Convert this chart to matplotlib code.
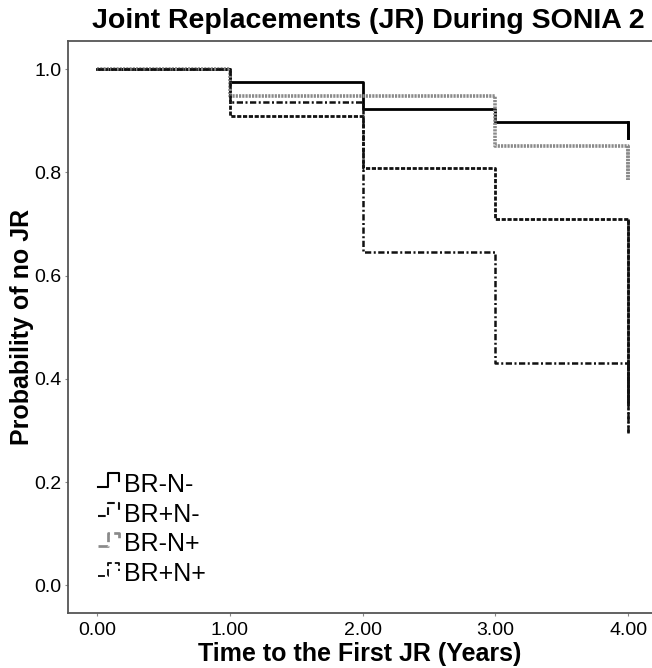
import matplotlib
matplotlib.use("Agg")
import matplotlib.pyplot as plt
from matplotlib.lines import Line2D
from matplotlib.legend_handler import HandlerBase

plt.rcParams['font.family'] = ['Liberation Sans', 'DejaVu Sans']

# Data (Kaplan-Meier step curves)
times = [0, 1, 2, 3, 4]
groups = ["BR-N-", "BR+N-", "BR-N+", "BR+N+"]
surv_br_n_minus = [1.0, 0.975, 0.922, 0.897, 0.866]
surv_br_plus_n_minus = [1.0, 0.910, 0.808, 0.710, 0.354]
surv_br_n_plus = [1.0, 0.947, 0.947, 0.851, 0.785]
surv_br_plus_n_plus = [1.0, 0.936, 0.646, 0.430, 0.295]
# value held just before the final drop at t=4
last_hold = {
    "BR-N-": 0.897, "BR+N-": 0.710, "BR-N+": 0.851, "BR+N+": 0.430,
}
series = {
    "BR-N-": surv_br_n_minus,
    "BR+N-": surv_br_plus_n_minus,
    "BR-N+": surv_br_n_plus,
    "BR+N+": surv_br_plus_n_plus,
}
styles = {
    "BR-N-": dict(color="black", lw=2.0, ls="-"),
    "BR+N-": dict(color="#111111", lw=2.0, ls=(0, (1.5, 0.6))),
    "BR-N+": dict(color="#8a8a8a", lw=2.6, ls=(0, (0.6, 0.3))),
    "BR+N+": dict(color="#111111", lw=1.8, ls=(0, (2.5, 1.0, 0.8, 1.0))),
}

fig = plt.figure(figsize=(6.52, 6.68), dpi=100)
ax = fig.add_axes([68.3 / 652, (668 - 612.7) / 668, (652 - 68.3) / 652, (612.7 - 40.7) / 668])

for g in groups:
    y = series[g]
    ax.step(times, y, where="post", **styles[g], label=g)
    # final drop at t=4
    ax.plot([times[-1], times[-1]], [last_hold[g], y[-1]], **styles[g])

ax.set_xlim(-0.216, 4.18)
ax.set_ylim(-0.053, 1.055)
ax.set_xticks([0, 1, 2, 3, 4])
ax.set_xticklabels(["0.00", "1.00", "2.00", "3.00", "4.00"])
ax.set_yticks([0.0, 0.2, 0.4, 0.6, 0.8, 1.0])
ax.set_yticklabels(["0.0", "0.2", "0.4", "0.6", "0.8", "1.0"])
ax.tick_params(axis="both", labelsize=14, length=2, color="#888888", pad=3)
ax.tick_params(axis="x", pad=5)

for s in ["left", "bottom", "top"]:
    ax.spines[s].set_color("#555555")
    ax.spines[s].set_linewidth(1.3)
ax.spines["right"].set_visible(False)

ax.set_xlabel("Time to the First JR (Years)", fontsize=18, fontweight="bold", labelpad=2)
ax.set_ylabel("Probability of no JR", fontsize=18, fontweight="bold", labelpad=0)
fig.text(645 / 652, 1 - 21 / 668, "Joint Replacements (JR) During SONIA 2", ha="right", va="center",
         fontsize=20.5, fontweight="bold")


class StepHandler(HandlerBase):
    def create_artists(self, legend, orig_handle, xdescent, ydescent, width, height,
                       fontsize, trans):
        w, h = width, height
        xs = [0, 0.4 * w, 0.4 * w, 0.85 * w, 0.85 * w]
        ys = [0.3 * h, 0.3 * h, 1.05 * h, 1.05 * h, 0.6 * h]
        l = Line2D([x - xdescent for x in xs], [y - ydescent for y in ys],
                   color=orig_handle.get_color(), lw=orig_handle.get_linewidth() * 0.75,
                   ls=orig_handle.get_linestyle())
        l.set_transform(trans)
        return [l]


handles = [Line2D([], [], **styles[g]) for g in groups]
leg = ax.legend(handles, groups, loc="lower left", bbox_to_anchor=(0.021, 0.016),
                frameon=False, fontsize=18, handlelength=1.0, handletextpad=0.05,
                labelspacing=0.23, borderpad=0.2,
                handler_map={Line2D: StepHandler()})

fig.savefig("out.png", dpi=100)
